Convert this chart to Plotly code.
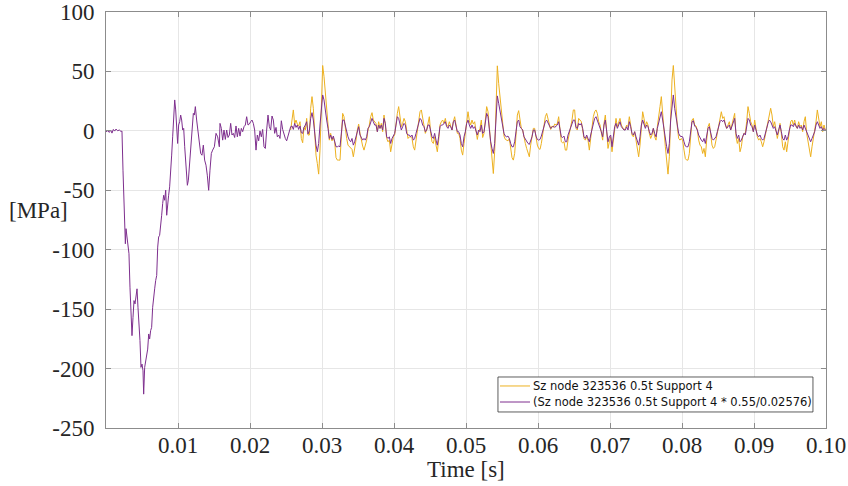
import numpy as np
import plotly.graph_objects as go

# ---------------- data ----------------
# Early part of the purple signal: explicit sample times [ms] and stresses [MPa]
purple_early_t_ms = [0.0, 0.23, 0.46, 0.65, 0.83, 1.02, 1.20, 1.39, 1.62, 1.85,
                     2.08, 2.22, 2.36, 2.45, 2.55, 2.69, 2.78, 2.92, 3.06, 3.19,
                     3.33, 3.47, 3.61, 3.75, 3.89, 4.03, 4.17, 4.31, 4.44, 4.58,
                     4.72, 4.86, 5.00, 5.14, 5.23, 5.37, 5.51, 5.65, 5.79, 5.93,
                     6.06, 6.20, 6.34, 6.48, 6.62, 6.76, 6.90, 7.04, 7.18, 7.31,
                     7.45, 7.59, 7.73, 7.87, 8.01, 8.15, 8.29, 8.43, 8.56, 8.70,
                     8.84, 8.98, 9.12, 9.26, 9.40, 9.54, 9.68, 9.81, 9.95, 10.09,
                     10.23, 10.37, 10.51, 10.65, 10.79, 10.93, 11.11, 11.30, 11.44, 11.57,
                     11.76, 11.94, 12.13, 12.27, 12.41, 12.59, 12.78, 12.96, 13.15, 13.33,
                     13.52, 13.70, 13.89, 14.07, 14.26, 14.44, 14.63, 14.81, 15.05, 15.28,
                     15.51, 15.74]
purple_early_v = [-0.7, 0.1, -1.3, 0.7, -1.9, 1.2, -0.2, 1.5, 0.1, 0.7,
                  -0.5, -0.2, -33.1, -55.6, -65.4, -95.0, -82.3, -89.3, -93.5, -103.4,
                  -131.5, -154.0, -172.3, -156.9, -142.8, -145.6, -135.7, -132.9, -148.4, -161.1,
                  -176.5, -199.0, -196.2, -201.9, -221.5, -199.0, -193.4, -192.0, -183.6, -170.9,
                  -175.1, -168.1, -165.3, -148.4, -137.2, -132.9, -125.9, -121.7, -97.8, -89.3,
                  -87.9, -75.3, -71.0, -61.2, -54.2, -58.4, -49.9, -71.0, -59.8, -54.2,
                  -47.1, -26.0, -20.4, -5.0, 14.7, 26.0, 17.6, 3.5, -10.6, 4.9,
                  7.7, 13.3, 9.1, 0.7, 2.1, -13.4, -33.1, -45.8, -41.5, -31.7,
                  -20.4, -5.0, 14.7, 13.3, 20.4, 9.1, -0.8, -10.6, -19.0, -20.5,
                  -12.0, -24.6, -28.9, -37.3, -50.0, -33.1, -19.0, -16.2, -13.4, -2.1,
                  -5.0, -13.4]

# Later part: signals sampled on a regular clock
SAMPLE_DT = 1.0 / 5400.0       # s
PURPLE_T0 = 0.0158333          # s, first regular sample of the purple signal
ORANGE_T0 = 0.0256481          # s, first sample of the orange signal

purple_v = [
    6.3, 2.1, -7.8, 0.7, -7.2, 0.7, -5.6, -3.5, 6.3, -3.5,
    -2.1, -5.6, 4.1, -5.0, 2.1, -4.4, 2.1, -0.7, 3.5, 4.9,
    11.9, 4.9, 5.7, 7.7, 9.1, 6.3, 0.7, -16.2, -3.5, -8.4,
    0.0, -5.0, 1.2, -13.4, -14.8, 0.7, 13.3, 3.5, 0.7, 12.5,
    9.1, -2.1, 2.9, -5.0, -3.5, -6.4, 8.5, 1.2, -3.5, -6.4,
    -8.4, -4.4, 0.7, 3.5, 4.1, 1.2, 6.3, 2.9, 4.9, 1.2,
    4.1, -1.6, -2.1, 2.9, 4.9, 7.7, -2.6, 0.0, 10.5, 15.3,
    9.1, -5.0, -12.0, -17.6, -10.6, 4.9, 21.8, 30.2, 26.0, 16.1,
    9.1, 2.1, -6.4, -3.5, -7.2, -4.4, -9.2, -13.4, -13.4, -12.8,
    -13.4, -0.7, 9.1, 9.1, 3.5, -0.7, -5.0, -7.8, -9.2, -6.4,
    -12.0, -9.2, -4.4, 0.7, 3.5, -3.5, -6.4, -7.8, -6.4, -7.8,
    -5.0, 2.1, 3.5, 7.7, 10.5, 7.7, 4.9, 4.9, -0.7, 4.9,
    2.1, 4.9, 0.7, 10.5, 6.3, -5.0, -6.4, -5.0, -10.6, -6.4,
    -3.5, -2.1, 4.9, 11.9, 10.5, 6.3, 0.7, 3.5, 6.3, 4.9,
    -2.1, -3.5, -3.5, -5.0, -3.5, -7.8, -6.4, -2.1, 2.1, 6.3,
    10.5, 9.1, 4.9, 3.5, -0.7, 0.7, 4.9, 4.9, -0.7, -5.0,
    -6.4, -2.1, -7.8, -12.0, -5.0, 3.5, 4.9, 4.9, 6.3, 7.7,
    3.5, 2.1, 4.9, 3.5, 0.7, 7.7, 9.1, 3.5, -0.7, -0.7,
    -3.5, -10.6, -13.4, -5.0, -0.7, 6.3, 9.1, 4.9, 2.1, 4.9,
    2.1, 3.5, -0.7, -3.5, 0.7, -0.7, 4.9, -2.1, -0.7, 7.7,
    14.7, 11.9, 0.7, -9.2, -14.8, -19.0, -10.6, 10.5, 29.4, 23.2,
    16.1, 10.5, 4.9, -2.1, -4.4, -5.0, -4.4, -6.4, -10.6, -13.4,
    -13.4, -9.2, -0.7, 7.7, 9.1, 3.5, 2.1, 0.7, -5.0, -7.2,
    -8.4, -10.6, -11.4, -8.4, -5.0, 0.7, 0.7, -4.4, -7.2, -7.8,
    -7.2, -4.4, -0.7, 2.1, 7.7, 9.1, 6.3, 4.1, 2.1, 2.9,
    4.1, 2.9, 4.1, 4.9, 7.7, 0.7, -5.0, -5.6, -4.4, -9.2,
    -9.2, -3.5, -0.7, 2.1, 5.7, 9.1, 9.1, 2.9, 2.1, 6.3,
    4.9, 6.3, 2.1, -5.0, -6.4, -3.5, -6.4, -9.2, -3.5, 2.1,
    7.7, 10.5, 11.9, 9.1, 4.9, 3.5, -0.7, -5.0, 4.9, 9.1,
    -0.7, -9.2, -5.0, -3.5, -13.4, -5.0, 3.5, 6.3, 2.1, 4.9,
    7.7, 3.5, 2.1, 0.7, 0.7, 3.5, 0.7, 7.7, 3.5, -2.1,
    -3.5, -0.7, -5.0, -7.8, -12.0, -5.0, 4.9, 9.1, 6.3, 2.1,
    4.9, 3.5, -0.7, -3.5, -2.1, 2.1, -2.1, -5.0, 2.1, 6.3,
    11.9, 16.1, 9.1, 0.7, -7.8, -13.4, -19.0, -10.6, 9.1, 23.2,
    30.2, 19.0, 11.9, 4.9, -2.1, -4.4, -4.4, -5.0, -9.2, -12.8,
    -13.4, -13.4, -9.2, 0.7, 7.7, 8.5, 4.1, 2.9, 0.7, -3.5,
    -6.4, -7.8, -9.2, -6.4, -10.6, -2.1, 2.1, 3.5, -2.1, -6.4,
    -7.8, -6.4, -5.0, -0.7, 3.5, 7.7, 9.1, 7.7, 9.1, 4.9,
    2.1, 3.5, 4.9, 0.7, 3.5, 6.3, 10.5, -2.1, -6.4, -3.5,
    -9.2, -7.8, -5.0, -2.1, -3.5, 4.9, 10.5, 9.1, 4.9, 3.5,
    -0.7, 4.9, 0.7, -3.5, -5.0, -3.5, -6.4, -7.8, -6.4, -2.1,
    3.5, 6.3, 9.1, 7.7, 4.9, 2.1, 3.5, -0.7, -3.5, 0.7,
    4.9, -0.7, -6.4, -7.8, -3.5, -7.8, -5.0, 0.7, 4.9, 4.9,
    3.5, 6.3, 3.5, 2.1, 4.9, 2.1, 3.5, 0.7, 4.9, 2.1,
    -2.1, -3.5, -6.4, -9.2, -6.4, -3.5, -0.7, 4.9, 7.7, 4.9,
    2.1, 3.5, 0.7, 2.1, 0.7]

orange_v = [
    0.7, 9.1, 17.6, 5.7, 9.1, 5.7, 4.1, 7.7, -6.4, -10.0,
    2.9, 0.7, 10.5, -3.5, -3.5, 19.0, 28.8, 19.0, -7.8, -20.4,
    -27.5, -36.4, -16.2, 28.8, 55.0, 45.7, 33.0, 16.1, 3.5, -7.8,
    -2.1, -8.4, -5.6, -9.2, -22.5, -24.6, -24.6,
    -24.6, -5.0, 14.7, 11.9, 2.1, -6.4, -12.0, -13.4, -14.8, -15.6,
    -21.8, -16.2, -7.8, 0.7, 5.7, -2.1, -8.3, -12.8, -16.2, -12.0,
    -7.8, 0.7, 4.9, 11.9, 15.3, 9.1, 7.7, 6.3, -0.7, 7.7,
    2.1, 6.3, -0.7, 13.3, 4.9, -6.4, -9.2, -7.8, -17.6, -9.2,
    -5.0, -3.5, 6.3, 14.7, 20.4, 13.3, 3.5, 6.3, 10.5, 7.7,
    -2.1, -6.4, -5.0, -5.0, -6.4, -13.4, -16.2, -7.8, 3.5, 10.5,
    16.1, 17.6, 10.5, 4.9, -2.1, 0.7, 6.3, 11.9, -2.1, -9.2,
    -10.6, -5.0, -12.0, -17.6, -7.8, 4.9, 7.7, 9.1, 6.3, 10.5,
    4.9, 3.5, 7.7, 4.9, 0.7, 7.7, 11.9, 4.9, -2.1, -2.1,
    -6.4, -16.2, -20.4, -10.6, -0.7, 9.1, 16.1, 8.5, 4.9, 9.1,
    5.7, 7.7, -2.6, -7.2, -0.7, 2.1, 9.1, -5.6, -2.1, 13.3,
    20.4, 16.1, 2.1, -14.8, -27.5, -35.9, -17.6, 14.7, 54.7, 40.0,
    28.8, 16.1, 4.9, -4.4, -7.2, -7.8, -8.4, -6.4, -13.4, -22.5,
    -24.6, -19.0, -3.5, 13.3, 17.0, 9.1, 2.1, 0.7, -7.2, -10.6,
    -14.8, -19.0, -21.8, -12.0, -5.0, 2.1, 2.1, -6.4, -12.0, -14.8,
    -15.6, -10.6, -3.5, 2.1, 11.9, 14.7, 9.1, 5.7, 1.2, 4.1,
    2.9, 5.7, 4.9, 6.3, 11.9, -0.7, -9.2, -10.0, -9.2, -16.2,
    -16.2, -7.8, -2.1, 2.9, 9.1, 17.6, 17.6, 2.1, 0.7, 10.5,
    9.1, 7.7, 0.7, -6.4, -7.8, -5.0, -7.8, -16.2, -6.4, 3.5,
    11.9, 16.1, 17.6, 14.7, 7.7, 4.9, -2.1, -7.8, 6.3, 13.3,
    -0.7, -14.8, -9.2, -5.0, -17.6, -6.4, 4.9, 10.5, 3.5, 7.7,
    10.5, 4.9, 2.1, 0.7, 2.1, 4.9, 3.5, 11.9, 4.9, -3.5,
    -5.0, -0.7, -7.8, -13.4, -21.8, -12.0, 4.9, 16.1, 10.5, 3.5,
    7.7, 4.9, -2.1, -6.4, -3.5, 2.1, -5.0, -7.8, 3.5, 10.5,
    20.4, 28.8, 17.6, 0.7, -13.4, -24.6, -36.4, -21.8, 6.3, 42.9,
    55.0, 34.4, 19.0, 3.5, -6.4, -7.8, -6.4, -8.4, -16.2, -23.3,
    -24.6, -24.6, -19.0, -0.7, 9.1, 10.5, 4.9, 4.1, 0.7, -7.8,
    -12.0, -13.4, -19.0, -14.8, -21.8, -7.8, 3.5, 6.3, -3.5, -12.0,
    -14.8, -13.4, -7.8, -2.1, 6.3, 11.9, 16.1, 10.5, 11.9, 4.9,
    2.1, 4.9, 7.7, 0.7, 4.9, 9.1, 14.7, -5.0, -10.6, -6.4,
    -17.6, -13.4, -5.0, -2.1, -2.1, 7.7, 20.4, 14.7, 7.7, 4.9,
    -0.7, 9.1, 2.1, -5.0, -7.8, -6.4, -9.2, -13.4, -9.2, -3.5,
    4.9, 10.5, 16.1, 19.0, 13.3, 3.5, 7.7, -0.7, -6.4, -0.7,
    6.3, -2.1, -13.4, -16.2, -9.2, -17.6, -10.6, -0.7, 7.7, 9.1,
    4.9, 9.1, 3.5, 2.1, 7.7, 3.5, 4.9, -0.7, 7.7, 11.9,
    -2.1, -7.8, -13.4, -21.8, -13.4, -6.4, -2.1, 7.7, 17.6, 9.1,
    3.5, 7.7, -0.7, 4.9, 0.7]

x_tick_vals = [0.01, 0.02, 0.03, 0.04, 0.05, 0.06, 0.07, 0.08, 0.09, 0.10]
x_tick_text = ["0.01", "0.02", "0.03", "0.04", "0.05", "0.06", "0.07", "0.08", "0.09", "0.10"]
y_tick_vals = [100, 50, 0, -50, -100, -150, -200, -250]
y_tick_text = ["100", "50", "0", "-50", "-100", "-150", "-200", "-250"]

series_names = ["Sz node 323536 0.5t Support 4",
                "(Sz node 323536 0.5t Support 4 * 0.55/0.02576)"]

# ---------------- build ----------------
purple_t = np.concatenate([np.array(purple_early_t_ms) / 1000.0,
                           PURPLE_T0 + SAMPLE_DT * np.arange(len(purple_v))])
purple_y = np.concatenate([np.array(purple_early_v), np.array(purple_v)])
orange_t = ORANGE_T0 + SAMPLE_DT * np.arange(len(orange_v))
orange_y = np.array(orange_v)

ORANGE = "#EDB120"
PURPLE = "#7E2F8E"
AX = "#8c8c8c"
SERIF = "Liberation Serif"
SANS = "DejaVu Sans"
TXT = "#262626"
FS = 23

fig = go.Figure()
fig.add_trace(go.Scatter(x=orange_t, y=orange_y, mode="lines", name=series_names[0],
                         line=dict(color=ORANGE, width=1), showlegend=False))
fig.add_trace(go.Scatter(x=purple_t, y=purple_y, mode="lines", name=series_names[1],
                         line=dict(color=PURPLE, width=1), showlegend=False))

axis_common = dict(showline=True, linecolor=AX, linewidth=1, mirror="ticks",
                   ticks="inside", ticklen=5, tickcolor=AX, tickwidth=1,
                   showgrid=True, gridcolor="#e6e6e6", gridwidth=1,
                   zeroline=False, automargin=False,
                   tickfont=dict(family=SERIF, size=FS, color=TXT))

# Legend box (drawn in paper coordinates, bottom-right inside the axes)
LEG_X0, LEG_X1 = 0.5444, 0.9819
LEG_Y0, LEG_Y1 = 0.0385, 0.1226
LEG_ROWS = [0.1010, 0.0625]
LEG_LINE_X = (0.5472, 0.5889)
shapes = [dict(type="rect", xref="paper", yref="paper",
               x0=LEG_X0, x1=LEG_X1, y0=LEG_Y0, y1=LEG_Y1,
               line=dict(color="#333333", width=0.8), fillcolor="white", layer="above")]
annotations = []
for name, color, ry in zip(series_names, [ORANGE, PURPLE], LEG_ROWS):
    shapes.append(dict(type="line", xref="paper", yref="paper",
                       x0=LEG_LINE_X[0], x1=LEG_LINE_X[1], y0=ry, y1=ry,
                       line=dict(color=color, width=1), layer="above"))
    annotations.append(dict(text=name, xref="paper", yref="paper",
                            x=LEG_LINE_X[1] + 0.0014, y=ry, xanchor="left",
                            yanchor="middle", showarrow=False,
                            font=dict(family=SANS, size=11.5, color="#111111")))

annotations += [
    dict(text="[MPa]", xref="paper", yref="paper", x=-0.1375, y=0.524,
         xanchor="left", yanchor="middle", showarrow=False,
         font=dict(family=SERIF, size=FS, color=TXT)),
    dict(text="Time [s]", xref="paper", yref="paper", x=0.5, y=-0.1,
         xanchor="center", yanchor="middle", showarrow=False,
         font=dict(family=SERIF, size=FS, color=TXT)),
]

fig.update_layout(
    width=848, height=486,
    margin=dict(l=106, r=22, t=12, b=58),
    paper_bgcolor="white", plot_bgcolor="white",
    xaxis=dict(range=[0, 0.1], tickmode="array", tickvals=x_tick_vals,
               ticktext=x_tick_text, ticklabelstandoff=-4, **axis_common),
    yaxis=dict(range=[-250, 100], tickmode="array", tickvals=y_tick_vals,
               ticktext=y_tick_text, ticklabelstandoff=6, **axis_common),
    showlegend=False,
    shapes=shapes,
    annotations=annotations,
)

fig.write_html("out.html",
               config={"displayModeBar": False},
               post_script="document.body.style.margin='0';"
                           "document.body.style.overflow='hidden';")
